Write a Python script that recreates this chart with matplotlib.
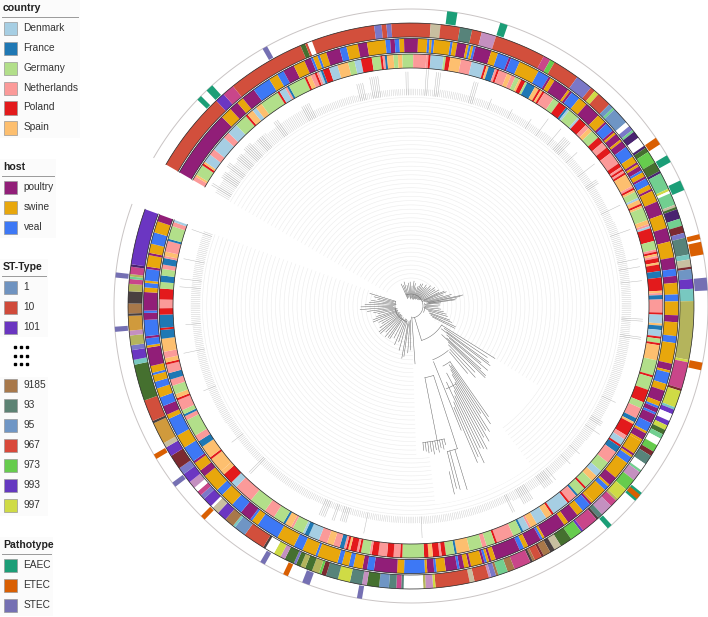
import numpy as np
import matplotlib
matplotlib.use("Agg")
import matplotlib.pyplot as plt
from matplotlib.patches import Rectangle

plt.rcParams['font.family'] = ['Liberation Sans', 'DejaVu Sans']

# legend content
country_names = ["Denmark", "France", "Germany", "Netherlands", "Poland", "Spain"]
country_colors = {"D": "#a6cee3", "F": "#1f78b4", "G": "#b2df8a", "N": "#fb9a99", "P": "#e31a1c", "S": "#fdbf6f"}
host_names = ["poultry", "swine", "veal"]
host_colors = {"p": "#911e78", "s": "#e8a70c", "v": "#3d78f5"}
st_names_top = ["1", "10", "101"]
st_legend_top = ["#6f93c0", "#d04a3a", "#6a35c0"]
st_names_bottom = ["9185", "93", "95", "967", "973", "993", "997"]
st_legend_bottom = ["#a8784a", "#5c8273", "#6f96c5", "#d9483a", "#66cc4d", "#6438c0", "#cfdb45"]
patho_names = ["EAEC", "ETEC", "STEC"]
patho_colors = ["#1b9e77", "#d95f02", "#7570b3"]

st_colors = {"R": "#d24f3c", "V": "#6b36c2", "Q": "#7a78c8", "M": "#c9468a", "L": "#c490c0", "T": "#57837a",
             "B": "#6f95c4", "G": "#45702f", "g": "#66cc4d", "m": "#72cf90", "Y": "#cfdb45", "O": "#b4b45c",
             "A": "#d09a3c", "K": "#4a4040", "W": "#ffffff", "D": "#4a2470", "C": "#7c2a30", "b": "#a8784a",
             "S": "#c8bfa0", "a": "#78c8c0"}

# rings, clockwise from the gap, (category, number of tips)
st_runs = [("R",33),("V",4),("M",5),("R",32),("G",2),("R",1),("W",2),("R",26),("Q",3),("R",2),("Q",2),("R",16),
           ("S",4),("R",8),("T",5),("R",4),("L",6),("R",21),("M",3),("g",2),("R",11),("Q",7),("R",2),("Y",2),("R",6),
           ("B",2),("m",1),("B",7),("W",2),("Q",2),("m",1),("D",3),("W",4),("D",1),("G",2),("g",5),("G",4),("D",1),
           ("m",7),("Y",1),("W",1),("m",5),("S",1),("G",1),("D",4),("m",3),("C",3),("Q",2),("T",7),("a",2),("S",3),
           ("C",1),("B",4),("V",4),("a",5),("O",24),("Y",1),("M",11),("C",1),("Y",7),("a",1),("V",2),("W",3),("V",2),
           ("Y",2),("G",2),("m",2),("W",3),("g",3),("C",2),("T",4),("W",3),("m",1),("L",4),("g",5),("Y",5),("O",1),
           ("M",3),("L",5),("T",2),("K",1),("M",7),("V",1),("g",5),("G",5),("S",3),("K",2),("b",3),("C",1),("R",3),
           ("b",1),("K",1),("M",7),("b",3),("m",4),("b",1),("Q",2),("L",1),("R",6),("S",2),("R",14),("Y",1),("L",3),
           ("O",1),("W",8),("T",1),("M",2),("T",3),("B",4),("G",5),("L",2),("T",5),("Y",5),("T",5),("C",2),("g",1),
           ("O",3),("G",3),("O",2),("G",2),("Q",1),("G",4),("L",2),("Y",3),("W",4),("K",1),("R",9),("B",5),("a",1),
           ("b",4),("V",4),("S",3),("W",1),("V",4),("Q",2),("M",2),("W",2),("L",3),("V",4),("Q",3),("C",6),
           ("V",4),("S",2),("A",9),("K",1),("R",9),("G",15),("a",2),("V",4),("Q",2),("O",4),("L",2),("A",6),("K",1),
           ("b",4),("K",5),("O",3),("M",2),("m",1),("O",1),("M",3),("D",1),("V",23)]
host_runs = [("p",30),("s",5),("p",4),("s",3),("p",6),("v",8),("s",4),("v",3),("p",5),("s",5),("p",3),("v",1),("s",2),
             ("v",1),("s",3),("p",6),("v",3),("s",5),("p",4),("s",8),("v",2),("p",2),("v",2),("s",2),("p",6),("s",4),("v",1),
             ("s",1),("v",1),("s",7),("v",1),("s",2),("p",4),("s",1),("v",1),("s",1),("v",1),("p",7),("s",3),("v",5),("p",1),
             ("v",4),("s",9),("v",5),("p",1),("s",2),("p",7),("s",1),("p",1),("v",4),("s",4),("p",7),("s",4),("p",1),("v",4),
             ("p",1),("s",1),("p",3),("s",1),("p",3),("v",5),("s",3),("p",1),("s",1),("p",2),("v",1),("s",2),("p",1),("v",3),
             ("s",2),("p",1),("s",5),("p",6),("s",6),("p",6),("s",7),("p",5),("v",3),("p",3),("s",5),("v",3),
             ("s",6),("p",3),("s",6),("v",3),("s",9),("p",3),("s",1),("v",5),("s",3),("p",5),("s",2),("v",1),("p",2),("v",1),
             ("p",4),("v",4),("s",1),("p",3),("s",1),("s",6),("p",1),("s",1),("v",3),("s",8),("p",4),("s",1),("v",2),("s",7),
             ("s",1),("p",1),("v",4),("s",3),("p",5),("s",2),("p",10),("s",1),("v",1),("p",6),("s",2),("v",2),("p",11),("s",2),
             ("p",1),("s",1),("v",1),("p",1),("s",5),("p",1),("s",2),("p",2),("v",1),("p",5),("s",4),("v",1),("p",3),
             ("s",1),("v",9),("s",3),("p",10),("v",3),("p",2),("s",4),("v",2),("s",3),("v",2),("s",9),("v",1),("s",6),("v",4),
             ("s",8),("v",10),("s",3),("v",1),("p",5),("v",5),("s",6),("v",3),("s",8),("p",3),("s",4),("p",1),("v",7),("s",6),
             ("v",8),("s",2),("p",4),("v",4),("s",4),("v",3),("s",3),("v",1),("s",3),("p",8),("s",1),("v",3),("p",1),("v",7),
             ("p",3),("v",1),("p",8),("s",2),("v",2),("s",1),("v",5),("p",1),("s",5),("p",1),("s",4),("v",5),("s",5),("p",3)]
country_runs = [("N",2),("S",1),("G",5),("P",1),("S",1),("D",4),("N",3),("D",7),("N",3),("D",5),("G",6),("P",1),("S",3),
                ("D",2),("S",3),("G",9),("P",1),("D",3),("N",1),("F",1),("G",8),("P",1),("S",2),("N",2),("P",1),("N",1),
                ("D",1),("F",1),("P",3),("D",4),("S",5),("G",3),("D",3),("P",5),("G",4),("P",1),("N",1),("F",1),("S",3),
                ("G",2),("S",2),("G",5),("N",6),
                ("N",1),("P",1),("D",6),("G",1),("P",2),("S",5),("N",5),("D",6),("P",1),("S",1),
                ("F",3),("N",1),("P",1),("N",4),("S",2),("N",2),("G",2),("S",1),("P",2),("G",1),("F",4),("S",2),("P",1),
                ("S",1),("P",1),("N",5),("G",3),("P",4),("F",1),("D",1),("G",5),("D",1),("P",4),("N",2),("S",2),("G",4),
                ("P",3),("N",3),("P",3),("N",6),("P",2),("N",1),("P",1),("N",1),("P",1),("S",6),("N",1),("P",1),("S",1),
                ("G",3),("D",1),("S",2),("P",1),("S",1),("G",6),("S",2),("N",1),("D",1),("P",6),("G",4),("N",1),("P",1),
                ("S",1),("N",1),("P",2),("S",1),("P",3),("F",3),("P",6),("S",1),("N",1),("F",2),
                ("N",6),("P",1),("D",4),("S",1),("F",2),("D",3),("P",1),("G",2),("P",1),("S",7),("G",7),("P",1),("G",6),("P",6),
                ("G",3),("N",5),("F",2),("S",1),("P",6),("N",2),("D",3),("P",1),("F",3),("N",6),("G",5),("D",3),("S",3),("G",4),
                ("P",1),("G",4),("F",1),("N",4),("P",1),("D",8),("P",1),("S",3),("D",5),("S",3),("N",1),("D",3),("F",1),("G",4),
                ("N",8),("P",1),("G",4),("N",2),("G",6),("S",6),("F",1),("G",4),("P",2),("N",1),("P",3),
                ("S",2),("P",2),("G",10),("P",1),("N",3),("P",3),("N",4),("P",3),("N",1),("G",4),("P",1),("N",1),("P",3),("S",1),
                ("P",1),("N",1),("F",2),("N",3),("S",3),("N",4),("D",5),("F",2),("D",1),("G",5),("N",1),("S",3),("F",1),("G",5),
                ("N",5),("G",8),("N",9),("D",3),("P",5),("S",2),("S",7),("P",1),("S",6),("F",3),("N",3),("G",8),("N",2),
                ("F",1),("G",2),("N",5),("P",1),("S",2),("G",4),("N",3),("F",3),("N",4),("P",1),("S",2),("N",3),("S",6),
                ("F",4),("P",1),("F",6),("P",3),("N",4),("P",5),("G",3),("F",3),("G",3),("N",2),("F",3),("N",1),("S",2),
                ("N",5),("F",1),("G",6),("N",2),("D",1)]

# pathotype bars, (first tip, number of tips)
eaec_tips = [(28,2),(33,3),(134,4),(155,3),(239,3),(250,4),(395,2),(378,4)]
etec_tips = [(231,3),(272,2),(275,5),(322,3),(379,2),(568,2),(529,2),(598,2)]
stec_tips = [(60,2),(289,5),(539,2),(520,3),(499,2),(671,2),(650,2),(585,2)]

# leaf ticks, outer radius of the short ones (number of tips, radius)
short_tick_runs = [(40,226),(25,224),(25,218),(45,217),(60,218),(60,219),(60,220),(60,221),(50,220),(50,218),(60,217),
                   (60,218),(55,219),(50,220)]
# long leaf ticks, (first tip, number of tips, radius)
long_ticks = [(2,2,233),(8,4,229),(14,3,231),(20,4,228),(26,5,229),(34,4,226),(46,3,229),(62,5,227),(92,4,228),
              (99,5,232),(117,2,234),(127,2,237),(132,3,235),(151,3,233),(162,1,222),(174,1,221),(185,1,222),(192,1,232),
              (200,1,232),(204,5,228),(214,1,226),(224,1,232),(231,3,224),(248,1,232),(261,1,232),(276,1,232),(280,1,232),
              (287,1,232),(306,2,232),(315,2,232),(350,1,226),(362,3,224),(368,1,228),(382,1,224),(389,1,224),(400,1,226),
              (402,6,226),(415,6,228),(426,2,230),(474,1,232),(503,1,232),(513,4,226),(519,2,228),(524,4,228),(567,2,232),
              (585,1,225),(615,1,224),(636,1,232),(650,1,226),(669,1,232),(673,1,232),(683,1,232),(698,1,232)]

# tree, spokes as (angle, inner radius, outer radius), arcs as (radius, from angle, to angle)
tree_spokes = [(-24,8,24),(-20,9,22),(-16,9,25),(-11,10,21),(-6,8,23),(-2,7,24),(3,8,20),(7,9,25),(11,7,23),(15,8,19),
               (20,7,21),(24,8,24),(28,9,25),(32,8,22),(36,9,26),(40,10,24),(44,9,28),(48,10,26),(52,10,30),(56,11,29),
               (60,12,32),(64,13,31),(66,14,36),(68,12,38),(71,14,34),(74,15,42),(76,16,40),(78,18,53),(79,17,50),
               (81,16,46),(82,18,44),(84,14,30),(88,15,29),(92,14,27),(96,13,30),(100,14,33),(103,16,36),(106,18,38),
               (110,20,41),(112,20,44),(115,22,49),(117,24,49),
               (287,16,43),(284,17,38),(281,18,34),(278,16,40),(275,15,42),(272,17,46),(269,18,50),(266,17,51),(263,16,44),
               (260,14,38),(257,15,34),(253,14,36),(250,14,40),(247,15,41),(243,14,36),(239,13,34),(235,14,38),(231,13,41),
               (228,14,41),(224,13,36),(220,14,40),(216,15,39),(213,14,39),(208,15,36),(203,14,42),(199,14,38),(195,15,46),
               (190,16,53),(188,18,51),(184,15,47),(181,14,44),(176,11,58),
               (122,36,99),(124,40,92),(126,44,96),(127,38,99),(129,46,90),(130,50,100),(132,48,94),(133,42,102),(134,52,103),
               (136,54,92),(138,58,96),(140,60,88),
               (145,68,135),(146,72,142),(147,70,128),(148,75,148),(149,80,145),(150,88,156),(151,92,150),(152,76,162),
               (153,95,160),(154,100,158),(155,84,173),(156,105,165),(157,110,170),(158,60,134),
               (163,12,36),(169,73,137),(162,73,150),(163,150,192),(165,150,190),(166,150,188),(167,170,193),
               (166,137,143),(167,137,147),(168,137,145),(169,137,149),(170,137,146),(171,137,150),(172,137,147),
               (173,137,148),(174,137,146),(175,137,145)]
tree_arcs = [(36,122,163),(73,162,169),(137,166,175),(58,140,158),(150,162,166),(68,145,152),(90,150,157),
             (12,-24,176),(16,195,287),(14,78,117)]


SPAN = 350.0
START = -60.0

fig = plt.figure(figsize=(7.08, 6.17), dpi=100)
# polar axes centred on the tree
cx, cy, R = 411.0, 306.0, 299.0
ax = fig.add_axes([(cx - R) / 708, 1 - (cy + R) / 617, 2 * R / 708, 2 * R / 617], projection='polar')
ax.set_theta_zero_location('N')
ax.set_theta_direction(-1)
ax.set_rlim(0, R)
ax.axis('off')


def draw_ring(runs, colors, r0, r1):
    total = sum(c for _, c in runs)
    tip = SPAN / total
    pos = 0
    for cat, count in runs:
        th = np.deg2rad(START + (pos + count / 2) * tip)
        ax.bar(th, r1 - r0, width=np.deg2rad(count * tip), bottom=r0, color=colors[cat], linewidth=0, zorder=3)
        pos += count
    arc = np.deg2rad(np.linspace(START, START + SPAN, 400))
    ax.plot(arc, np.full(400, r0), color="#222222", lw=0.5, zorder=4)
    ax.plot(arc, np.full(400, r1), color="#222222", lw=0.5, zorder=4)


# faint rings left by the leaf guides
arc = np.deg2rad(np.linspace(START, START + SPAN, 500))
for r in np.arange(28, 210, 4.3):
    ax.plot(arc, np.full(500, r), color="#ececec", lw=0.4, zorder=1)
# no guides around the long stems
ax.bar(np.deg2rad(150), 130, width=np.deg2rad(56), bottom=22, color="white", linewidth=0, zorder=1.5)
ax.bar(np.deg2rad(158), 50, width=np.deg2rad(30), bottom=150, color="white", linewidth=0, zorder=1.5)

# leaf ticks
N_TIPS = sum(c for c, _ in short_tick_runs)
tick_step = SPAN / N_TIPS
pos = 0
for count, r_end in short_tick_runs:
    for i in range(pos, pos + count):
        th = np.deg2rad(START + (i + 0.5) * tick_step)
        ax.plot([th, th], [211, r_end], color="#c6c6c6", lw=0.3, zorder=2)
    pos += count
for first, count, r_end in long_ticks:
    for i in range(first, first + count):
        th = np.deg2rad(START + (i + 0.5) * tick_step)
        ax.plot([th, th], [211, r_end], color="#bdbdbd", lw=0.35, zorder=2)

# tree
for deg, r0, r1 in tree_spokes:
    th = np.deg2rad(deg)
    ax.plot([th, th], [r0, r1], color="#666666", lw=0.35, zorder=2.5)
for r, d0, d1 in tree_arcs:
    th = np.deg2rad(np.linspace(d0, d1, 60))
    ax.plot(th, np.full(60, r), color="#666666", lw=0.35, zorder=2.5)

draw_ring(country_runs, country_colors, 238, 252)
draw_ring(host_runs, host_colors, 253.5, 267.5)
draw_ring(st_runs, st_colors, 269, 283)

# pathotype bars and the thin outer circle
ax.plot(arc, np.full(500, 297), color="#c9c4c4", lw=0.7, zorder=2)
for tips, col in zip([eaec_tips, etec_tips, stec_tips], patho_colors):
    for first, count in tips:
        th = np.deg2rad(START + (first + count / 2) * tick_step)
        ax.bar(th, 13, width=np.deg2rad(count * tick_step), bottom=284, color=col, linewidth=0, zorder=3)

# legends in pixel coordinates
lg = fig.add_axes([0, 0, 1, 1])
lg.set_xlim(0, 708)
lg.set_ylim(617, 0)
lg.axis('off')
lg.patch.set_alpha(0)


def legend_box(title, title_y, names, colors, rows, box_w, box_bottom):
    lg.add_patch(Rectangle((0, title_y - 8), box_w, box_bottom - title_y + 8, fc="#fbfbfb", ec="none", zorder=0))
    if title:
        lg.text(3, title_y, title, fontsize=7.6, fontweight='bold', va='center', color="#222222")
        lg.plot([2, box_w - 2], [title_y + 8.5, title_y + 8.5], color="#999999", lw=0.7)
    for name, col, y in zip(names, colors, rows):
        lg.add_patch(Rectangle((3.5, y - 6.5), 13.5, 13.5, fc=col, ec="#999999", lw=0.5))
        lg.text(23.5, y, name, fontsize=7.3, va='center', color="#333333")


legend_box("country", 8, country_names, list(country_colors.values()), [28, 48, 68, 88, 107.5, 127.5], 80, 138)
legend_box("host", 167, host_names, [host_colors[k] for k in "psv"], [187, 207, 227], 56, 238)
legend_box("ST-Type", 267, st_names_top, st_legend_top, [287, 307, 327], 48, 337)
legend_box("", 385, st_names_bottom, st_legend_bottom, [385, 405, 425, 445, 465, 485, 505], 48, 516)
legend_box("Pathotype", 545, patho_names, patho_colors, [565, 585, 605], 53, 616)
for y in [347, 356, 364]:
    lg.plot([15, 21, 27], [y, y, y], ls='none', marker='s', ms=1.6, color="black")

fig.savefig("out.png", dpi=100)
